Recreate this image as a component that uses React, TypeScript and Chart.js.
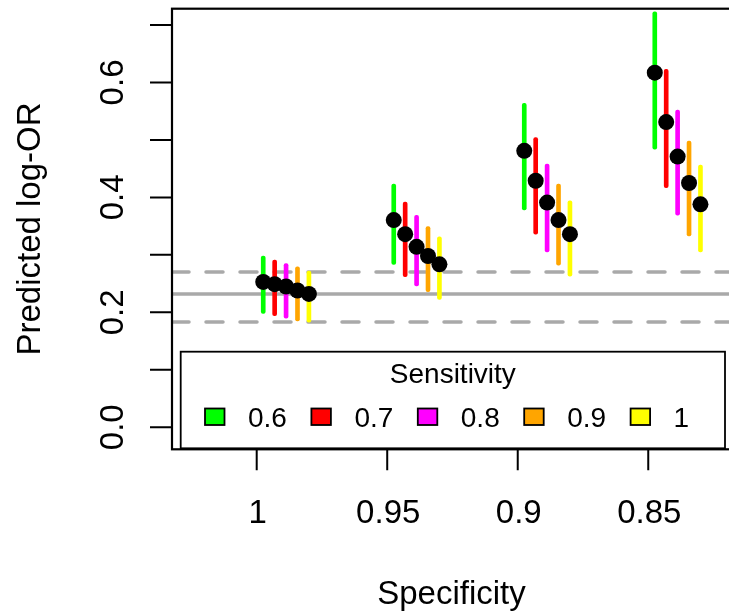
import React, { useEffect, useRef } from "react";
import { Chart, registerables } from "chart.js";

Chart.register(...registerables);

// ---- data ----
const SPECIFICITY = ["1", "0.95", "0.9", "0.85"];
const SENSITIVITY = ["0.6", "0.7", "0.8", "0.9", "1"];
const SENS_COLORS = ["#00FF00", "#FF0000", "#FF00FF", "#FFA500", "#FFFF00"];

// predicted log-OR (point estimate) for each sensitivity, across specificity
const EST_S06 = [0.253, 0.3605, 0.481, 0.617];
const EST_S07 = [0.249, 0.336, 0.429, 0.531];
const EST_S08 = [0.245, 0.314, 0.391, 0.471];
const EST_S09 = [0.238, 0.298, 0.3605, 0.425];
const EST_S10 = [0.232, 0.2835, 0.336, 0.388];

// lower interval limits
const LOW_S06 = [0.198, 0.2835, 0.378, 0.484];
const LOW_S07 = [0.194, 0.262, 0.336, 0.417];
const LOW_S08 = [0.19, 0.246, 0.305, 0.369];
const LOW_S09 = [0.185, 0.236, 0.282, 0.333];
const LOW_S10 = [0.183, 0.2226, 0.263, 0.305];

// upper interval limits
const HIGH_S06 = [0.298, 0.423, 0.5635, 0.723];
const HIGH_S07 = [0.291, 0.392, 0.504, 0.623];
const HIGH_S08 = [0.285, 0.369, 0.458, 0.552];
const HIGH_S09 = [0.279, 0.349, 0.423, 0.498];
const HIGH_S10 = [0.272, 0.3315, 0.394, 0.456];

// reference (true) value and its interval
const REF_EST = 0.232;
const REF_LOW = 0.183;
const REF_HIGH = 0.27;

// within-group dodge of the sensitivity levels
const DODGE = [0.05, 0.1375, 0.225, 0.3125, 0.4];

const Y_TICKS = [0, 0.1, 0.2, 0.3, 0.4, 0.5, 0.6, 0.7];
const Y_TICK_LABELS = ["0.0", "", "0.2", "", "0.4", "", "0.6", ""];

const X_MIN = 0.351;
const X_MAX = 4.634;
const Y_MIN = -0.0383;
const Y_MAX = 0.7283;

const ESTS = [EST_S06, EST_S07, EST_S08, EST_S09, EST_S10];
const LOWS = [LOW_S06, LOW_S07, LOW_S08, LOW_S09, LOW_S10];
const HIGHS = [HIGH_S06, HIGH_S07, HIGH_S08, HIGH_S09, HIGH_S10];

const FONT = '"Liberation Sans", Arial, Helvetica, sans-serif';

const rPlot = {
  id: "rPlot",
  afterDraw(chart: any) {
    const ctx: CanvasRenderingContext2D = chart.ctx;
    const { left, top, right, bottom } = chart.chartArea;
    const xs = chart.scales.x;
    const ys = chart.scales.y;
    ctx.save();

    // legend
    const lx = left + 8.7;
    const lw = 544.3;
    const lt = 351.7;
    const lb = bottom - 1;
    ctx.fillStyle = "#ffffff";
    ctx.fillRect(lx, lt, lw, lb - lt);
    ctx.strokeStyle = "#000";
    ctx.lineWidth = 1.8;
    ctx.strokeRect(lx, lt, lw, lb - lt);
    ctx.fillStyle = "#000";
    ctx.font = `28px ${FONT}`;
    ctx.textAlign = "center";
    ctx.textBaseline = "alphabetic";
    ctx.fillText("Sensitivity", lx + lw / 2, 383.3);
    SENSITIVITY.forEach((s, i) => {
      const sx = lx + 24.3 + i * 106.4;
      ctx.fillStyle = SENS_COLORS[i];
      ctx.fillRect(sx, 408.5, 19.5, 16.5);
      ctx.lineWidth = 1.8;
      ctx.strokeStyle = "#000";
      ctx.strokeRect(sx, 408.5, 19.5, 16.5);
      ctx.fillStyle = "#000";
      ctx.textAlign = "left";
      ctx.fillText(s, sx + 43, 427.3);
    });

    // frame
    ctx.strokeStyle = "#000";
    ctx.lineWidth = 2.2;
    ctx.strokeRect(left, top, right - left, bottom - top);

    // ticks
    ctx.lineWidth = 2;
    ctx.beginPath();
    Y_TICKS.forEach((v) => {
      const y = ys.getPixelForValue(v);
      ctx.moveTo(left - 22, y);
      ctx.lineTo(left, y);
    });
    SPECIFICITY.forEach((_, i) => {
      const x = xs.getPixelForValue(i + 1);
      ctx.moveTo(x, bottom);
      ctx.lineTo(x, bottom + 21);
    });
    ctx.stroke();

    // tick labels
    ctx.fillStyle = "#000";
    ctx.font = `33px ${FONT}`;
    ctx.textAlign = "center";
    ctx.textBaseline = "alphabetic";
    SPECIFICITY.forEach((lab, i) => {
      ctx.fillText(lab, xs.getPixelForValue(i + 1) + 1, bottom + 74);
    });
    Y_TICKS.forEach((v, i) => {
      const lab = Y_TICK_LABELS[i];
      if (!lab) return;
      const y = ys.getPixelForValue(v);
      ctx.save();
      ctx.translate(left - 49, y);
      ctx.rotate(-Math.PI / 2);
      ctx.fillText(lab, 0, 0);
      ctx.restore();
    });

    // axis titles
    ctx.fillText("Specificity", (left + right) / 2, 604);
    ctx.save();
    ctx.translate(40, (top + bottom) / 2);
    ctx.rotate(-Math.PI / 2);
    ctx.fillText("Predicted log-OR", 0, 0);
    ctx.restore();

    ctx.restore();
  },
};

export default function App() {
  const ref = useRef<HTMLCanvasElement | null>(null);

  useEffect(() => {
    if (!ref.current) return;

    const points = {
      type: "scatter",
      label: "estimate",
      order: 0,
      data: ESTS.flatMap((est, s) =>
        SPECIFICITY.map((_, i) => ({ x: i + 1 + DODGE[s], y: est[i] }))
      ),
      pointRadius: 8,
      pointBackgroundColor: "#000",
      pointBorderColor: "#000",
      pointBorderWidth: 0,
      showLine: false,
    };

    const bars = SENSITIVITY.map((s, si) => ({
      type: "bar",
      label: s,
      order: 1,
      data: SPECIFICITY.map((_, i) => ({
        x: i + 1 + DODGE[si],
        y: [LOWS[si][i], HIGHS[si][i]],
      })),
      backgroundColor: SENS_COLORS[si],
      barThickness: 4,
      grouped: false,
      borderSkipped: false,
      borderRadius: 2,
      borderWidth: 0,
    }));

    const refLine = (v: number, dashed: boolean) => ({
      type: "line",
      label: "ref",
      order: 2,
      data: [
        { x: X_MIN, y: v },
        { x: X_MAX, y: v },
      ],
      borderColor: "#A9A9A9",
      borderWidth: 3.5,
      borderDash: dashed ? [17, 17] : [],
      borderCapStyle: "round",
      pointRadius: 0,
      showLine: true,
      fill: false,
    });

    const chart = new Chart(ref.current, {
      type: "scatter",
      data: {
        datasets: [
          points,
          ...bars,
          refLine(REF_EST, false),
          refLine(REF_LOW, true),
          refLine(REF_HIGH, true),
        ] as any,
      },
      options: {
        animation: false,
        responsive: false,
        maintainAspectRatio: false,
        events: [],
        layout: { padding: { left: 172, top: 8.7, right: 9, bottom: 165.7 } },
        plugins: {
          legend: { display: false },
          tooltip: { enabled: false },
        },
        scales: {
          x: { type: "linear", min: X_MIN, max: X_MAX, display: false, offset: false },
          y: { type: "linear", min: Y_MIN, max: Y_MAX, display: false },
        },
      } as any,
      plugins: [rPlot],
    });

    return () => chart.destroy();
  }, []);

  return (
    <div
      style={{
        position: "absolute",
        left: 0,
        top: 0,
        width: 729,
        height: 615,
        overflow: "hidden",
        background: "#fff",
      }}
    >
      <canvas ref={ref} width={740} height={615} style={{ display: "block" }} />
    </div>
  );
}
